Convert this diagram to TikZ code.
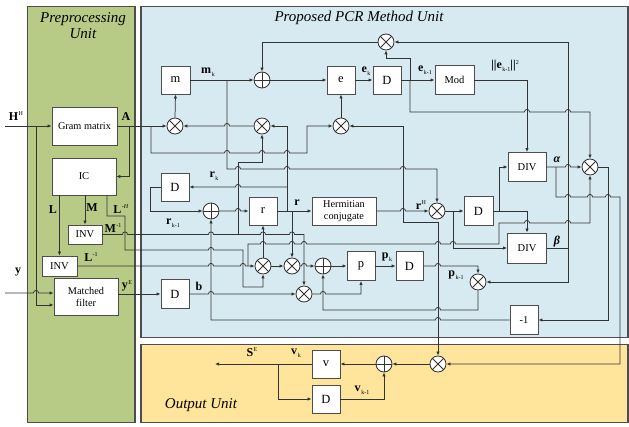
\documentclass[tikz,border=0pt]{standalone}
\usepackage{fontspec}
\setmainfont{Liberation Serif}
\usetikzlibrary{arrows.meta}

\definecolor{prepgreen}{HTML}{B7CB86}
\definecolor{pcrblue}{HTML}{D8EAF1}
\definecolor{outyellow}{HTML}{FFE49B}
\definecolor{wirecol}{HTML}{333333}
\definecolor{framecol}{HTML}{4D4D4D}

% a wire running right (\hopr) or left (\hopl) jumps over a crossing wire at x
\newcommand\hopr[2]{-- (#1-2.6,#2) arc[start angle=180,end angle=360,radius=2.6]}
\newcommand\hopl[2]{-- (#1+2.6,#2) arc[start angle=0,end angle=-180,radius=2.6]}
% bold symbol with a small index below or above
\newcommand\vlow[2]{\textbf{#1}\kern0.6pt\raisebox{-2.6pt}{\fontsize{6}{6}\selectfont #2}}
\newcommand\vhigh[2]{\textbf{#1}\kern0.4pt\raisebox{4.2pt}{\fontsize{6}{6}\selectfont #2}}

\begin{document}
\begin{tikzpicture}[x=1pt,y=-1pt,
  wire/.style={draw=wirecol,line width=0.75pt},
  arr/.style={wire,-{Latex[length=4pt,width=3.4pt]}},
  biarr/.style={wire,{Latex[length=4pt,width=3.4pt]}-{Latex[length=4pt,width=3.4pt]}},
  blk/.style 2 args={draw=framecol,fill=white,line width=0.9pt,inner sep=0pt,align=center,
      minimum width=#1pt,minimum height=#2pt,font=\fontsize{10.5}{11}\selectfont},
  smalltxt/.style={font=\fontsize{10.3}{11.5}\selectfont},
  bigtxt/.style={font=\fontsize{12.5}{13}\selectfont},
  junc/.style={circle,draw=wirecol,fill=white,line width=0.85pt,minimum size=16pt,inner sep=0pt},
  mulc/.style={junc,path picture={\draw[wirecol,line width=0.85pt]
      (path picture bounding box.south west) -- (path picture bounding box.north east)
      (path picture bounding box.north west) -- (path picture bounding box.south east);}},
  sumc/.style={junc,path picture={\draw[wirecol,line width=0.85pt]
      (path picture bounding box.south) -- (path picture bounding box.north)
      (path picture bounding box.west) -- (path picture bounding box.east);}},
  lbl/.style={inner sep=0pt,font=\fontsize{12}{12}\selectfont},
  ttl/.style={inner sep=0pt,align=center,font=\itshape\fontsize{15}{16}\selectfont}]

\useasboundingbox (0,0) rectangle (629,426);
\fill[white] (0,0) rectangle (629,426);

% unit panels
\draw[framecol,line width=1.1pt,fill=prepgreen] (27.5,6.5) rectangle (135,422.5);
\draw[framecol,line width=1.1pt,fill=pcrblue] (141,6.5) rectangle (628,337.5);
\draw[framecol,line width=1.1pt,fill=outyellow] (141,344.5) rectangle (628,422.5);

\node[ttl] (tprep) at (83,26) {Preprocessing\\Unit};
\node[ttl] (tpcr) at (359,18) {Proposed PCR Method Unit};
\node[ttl] (tout) at (201,405) {Output Unit};

% blocks
\node[blk={65}{38},smalltxt] (gram) at (84.5,126) {Gram matrix};
\node[blk={64}{37}] (ic) at (84,176.5) {IC};
\node[blk={34}{19}] (invm) at (85,234.5) {INV};
\node[blk={35}{20}] (invl) at (59.5,266) {INV};
\node[blk={64}{37},smalltxt] (mf) at (86,297) {Matched\\filter};
\node[blk={29}{28},bigtxt] (mbox) at (175.5,80) {m};
\node[blk={28}{28},bigtxt] (ebox) at (341,80) {e};
\node[blk={28}{28},bigtxt] (de) at (387,80) {D};
\node[blk={39}{29}] (mod) at (454.5,80) {Mod};
\node[blk={28}{28},bigtxt] (dr) at (175,187) {D};
\node[blk={28}{28},bigtxt] (rbox) at (263,211) {r};
\node[blk={64}{28},smalltxt] (herm) at (344,211) {Hermitian\\conjugate};
\node[blk={29}{29},bigtxt] (drh) at (478.5,211) {D};
\node[blk={38}{29}] (diva) at (527,167) {DIV};
\node[blk={39}{30}] (divb) at (527,248) {DIV};
\node[blk={28}{29},bigtxt] (pbox) at (361,266) {p};
\node[blk={27}{29},bigtxt] (dp) at (409.5,266) {D};
\node[blk={28}{29},bigtxt] (db) at (175,294) {D};
\node[blk={28}{29}] (neg) at (524,320) {-1};
\node[blk={28}{28},bigtxt] (vbox) at (326,364) {v};
\node[blk={28}{28},bigtxt] (dv) at (326,399) {D};

% multipliers and adders
\node[sumc] (sumE) at (262,80) {};
\node[mulc] (mulBE) at (386,42) {};
\node[mulc] (mulM) at (175,126) {};
\node[mulc] (mulR) at (262,126) {};
\node[mulc] (mulAP) at (341,126) {};
\node[sumc] (sumR) at (211,211) {};
\node[mulc] (mulRH) at (437,211) {};
\node[mulc] (mulAlpha) at (590,167) {};
\node[mulc] (mul1) at (263,266) {};
\node[mulc] (mul2) at (292,266) {};
\node[sumc] (sumP) at (323,266) {};
\node[mulc] (mul3) at (304,294) {};
\node[mulc] (mulBP) at (478,282) {};
\node[mulc] (mulV) at (438,364) {};
\node[sumc] (sumV) at (384,364) {};

% preprocessing wires
\coordinate (hin) at (5,126);
\coordinate (yin) at (5,293);
\draw[arr] (hin) -- (gram.west);
\draw[arr] (36,126) -- (36,305) -- (mf.west |- 0,305);
\draw[arr] (yin) \hopr{36}{293} -- (mf.west |- 0,293);
\draw[arr] (129,126) |- (ic.east);
\draw[arr] (ic.south -| invl.north) -- (invl.north);
\draw[arr] (ic.south -| invm.north) -- (invm.north);
\draw[arr] (ic.south -| 107,0) -- (107,216) -- (125,216) -- (125,250) \hopr{211}{250} -- (243,250) -- (243,287) -| (mul1.south);
\draw[arr] (invm.east) \hopr{125}{234.5} \hopr{211}{234.5} \hopr{263}{234.5} \hopr{292}{234.5} -- (304,234.5) -- (mul3.north);
\draw[arr] (238,234.5) -- (238,162) -- (262,162) -- (mulR.south);
\draw[arr] (invl.east) \hopr{211}{266} \hopr{243}{266} -- (mul1.west);
\draw[arr] (248,266) -- (248,244) \hopr{263}{244} \hopr{292}{244} \hopr{304}{244} \hopr{438}{244} \hopr{453}{244} -- (499,244) -- (499,223) \hopr{527}{223} \hopr{568}{223} -- (590,223) -- (mulAlpha.south);
\draw[arr] (mf.east |- db.west) -- (db.west);

% m and e loop
\draw[arr] (gram.east) -- (mulM.west);
\draw[arr] (151,126) -- (151,153) \hopr{227}{153} \hopr{262}{153} \hopr{287}{153} -- (307,153) |- (mulAP.west);
\draw[arr] (mulM.north) -- (mbox.south);
\draw[arr] (mbox.east) -- (sumE.west);
\draw[arr] (227,80) -- (227,169) \hopr{238}{169} \hopr{287}{169} \hopr{403}{169} -| (mulRH.north);
\draw[arr] (mulR.west) \hopl{227}{126} -- (mulM.east);
\draw[arr] (sumE.east) -- (ebox.west);
\draw[arr] (mulAP.north) -- (ebox.south);
\draw[arr] (ebox.east) -- (de.west);
\draw[arr] (de.east) -- (mod.west);
\draw[arr] (410,80) -- (410,58) -| (mulBE.south);
\draw[arr] (410,80) -- (410,112) \hopr{527}{112} \hopr{568}{112} -| (mulAlpha.north);
\draw[arr] (mulBE.west) -| (sumE.north);
\draw[arr] (mod.east) -| (diva.north);

% step sizes
\draw[arr] (divb.east) -- (568,248) |- (mulBE.east);
\draw[arr] (568,248) |- (mulBP.east);
\draw[arr] (diva.east) \hopr{568}{167} -- (mulAlpha.west);
\draw[arr] (556,167) -- (556,197) \hopr{568}{197} \hopr{590}{197} \hopr{608}{197} -- (620,197) |- (mulV.east);
\draw[arr] (mulAlpha.east) -| (608,320) -- (neg.east);
\draw[arr] (neg.west) \hopl{438}{320} -| (sumR.south);

% residual
\draw[arr] (dr.west) -- (150,187) |- (sumR.west);
\draw[arr] (sumR.east) \hopr{238}{211} -- (rbox.west);
\draw[arr] (rbox.east) -- (herm.west);
\draw[arr] (287,211) |- (mulR.east);
\draw[arr] (287,187) \hopl{238}{187} -- (dr.east);
\draw[arr] (292,211) -- (mul2.north);
\draw[arr] (herm.east) \hopr{403}{211} -- (mulRH.west);
\draw[arr] (mulRH.east) -- (drh.west);
\draw[arr] (453,211) |- (divb.west);
\draw[arr] (drh.east) -| (divb.north);
\draw[arr] (499,211) |- (diva.west);

% search direction
\draw[arr] (mul1.north) -- (rbox.south);
\draw[arr] (mul1.east) -- (mul2.west);
\draw[arr] (mul2.east) \hopr{304}{266} -- (sumP.west);
\draw[arr] (sumP.east) -- (pbox.west);
\draw[arr] (mul3.east) \hopr{323}{294} -| (pbox.south);
\draw[arr] (pbox.east) -- (dp.west);
\draw[arr] (dp.east) \hopr{438}{266} -| (mulBP.north);
\draw[arr] (mulBP.south) -- (478,310) \hopl{438}{310} -| (sumP.south);
\draw[arr] (db.east) \hopr{211}{294} -- (mul3.west);
\draw[biarr] (mulAP.east) -- (403,126) -- (403,222) -| (mulV.north);

% output unit
\coordinate (sout) at (215,364);
\draw[arr] (mulV.west) -- (sumV.east);
\draw[arr] (sumV.west) -- (vbox.east);
\draw[arr] (vbox.west) -- (sout);
\draw[arr] (278,364) |- (dv.west);
\draw[arr] (dv.east) -| (sumV.south);

% signal names
\node[lbl] (lHH) at (16,116) {\vhigh{H}{H}};
\node[lbl] (lA) at (126,117) {\textbf{A}};
\node[lbl] (ly) at (18,272) {\textbf{y}};
\node[lbl] (lL) at (53,210) {\textbf{L}};
\node[lbl] (lM) at (92,208) {\textbf{M}};
\node[lbl] (lLH) at (121,209) {\vhigh{L}{-\textit{H}}};
\node[lbl] (lMi) at (113,228) {\vhigh{M}{-1}};
\node[lbl] (lLi) at (91,257) {\vhigh{L}{-1}};
\node[lbl] (lyE) at (127,286) {\vhigh{y}{E}};
\node[lbl] (lb) at (199,286) {\textbf{b}};
\node[lbl] (lmk) at (208,72) {\vlow{m}{k}};
\node[lbl] (lek) at (366,71) {\vlow{e}{k}};
\node[lbl] (lek1) at (425,70) {\vlow{e}{k-1}};
\node[lbl] (lnorm) at (505,66) {\textbf{||}\vlow{e}{k-1}\textbf{||}\raisebox{4.2pt}{\fontsize{6}{6}\selectfont 2}};
\node[lbl] (lrk) at (214,176) {\vlow{r}{k}};
\node[lbl] (lrk1) at (173,223) {\vlow{r}{k-1}};
\node[lbl] (lr) at (297,203) {\textbf{r}};
\node[lbl] (lrH) at (421,205) {\vhigh{r}{H}};
\node[lbl] (lal) at (557,160) {\textbf{\textit{α}}};
\node[lbl] (lbe) at (557,242) {\textbf{\textit{β}}};
\node[lbl] (lpk) at (387,257) {\vlow{p}{k}};
\node[lbl] (lpk1) at (456,275) {\vlow{p}{k-1}};
\node[lbl] (lSE) at (252,352) {\vhigh{S}{E}};
\node[lbl] (lvk) at (296,353) {\vlow{v}{k}};
\node[lbl] (lvk1) at (362,390) {\vlow{v}{k-1}};
\end{tikzpicture}
\end{document}
